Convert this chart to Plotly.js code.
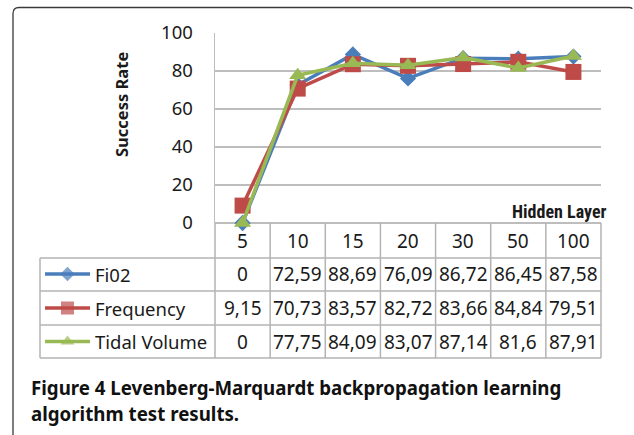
<!DOCTYPE html>
<html>
<head>
<meta charset="utf-8">
<script src="https://cdn.plot.ly/plotly-3.0.1.min.js"></script>
<style>
  html, body { margin: 0; padding: 0; background: #fff; }
  #chart { width: 634px; height: 435px; }
</style>
</head>
<body>
<div id="chart"></div>
<script>
// ---- data ----
const categories = ['5', '10', '15', '20', '30', '50', '100'];
const seriesNames = ['Fi02', 'Frequency', 'Tidal Volume'];
const fi02 = [0, 72.59, 88.69, 76.09, 86.72, 86.45, 87.58];
const frequency = [9.15, 70.73, 83.57, 82.72, 83.66, 84.84, 79.51];
const tidalVolume = [0, 77.75, 84.09, 83.07, 87.14, 81.6, 87.91];
const yTicks = [0, 20, 40, 60, 80, 100];
const yTitle = 'Success Rate';
const xTitle = 'Hidden Layer';
const captionLine1Bold = 'Figure 4';
const captionLine1Rest = ' Levenberg-Marquardt backpropagation learning';
const captionLine2 = 'algorithm test results.';

// ---- styling ----
const colors = ['#4a7ebb', '#be4b48', '#98b954'];
const symbols = ['diamond', 'square', 'triangle-up'];
const sizes = [12.5, 16, 15];
const legendSizes = [11, 13, 12];
const seriesValues = [fi02, frequency, tidalVolume];

const W = 634, H = 435;
const L = 215, R = 601, T = 33, B = 223;
// pixel -> paper
const PX = px => px / W;
const PY = py => 1 - py / H;

const fontMain = '"Noto Sans", "Open Sans", "DejaVu Sans", sans-serif';
const gridCol = '#bdbdbd';
const tableCol = '#b3b3b3';
const txtCol = '#1a1a1a';

const traces = seriesValues.map((vals, i) => ({
  type: 'scatter',
  mode: 'lines+markers',
  x: categories,
  y: vals,
  name: seriesNames[i],
  line: { color: colors[i], width: 3.5 },
  marker: { symbol: symbols[i], size: sizes[i], color: colors[i] },
  cliponaxis: false,
  showlegend: false
}));

// legend glyphs in the table label cells, drawn on a full-page pixel axis
const rowCenters = [274, 308, 341.5];
const glyphX0 = 45, glyphX1 = 90;
seriesValues.forEach((vals, i) => {
  traces.push({
    type: 'scatter',
    mode: 'lines+markers',
    xaxis: 'x2', yaxis: 'y2',
    x: [glyphX0, (glyphX0 + glyphX1) / 2, glyphX1],
    y: [rowCenters[i], rowCenters[i], rowCenters[i]],
    line: { color: colors[i], width: 3.5 },
    marker: { symbol: symbols[i], size: [0, legendSizes[i], 0], color: colors[i], line: { width: 0 } },
    showlegend: false,
    hoverinfo: 'skip'
  });
});

const shapes = [];
const annotations = [];

// outer frame with rounded top-left corner
const fr = 6;
shapes.push({
  type: 'path', xref: 'paper', yref: 'paper',
  path: `M ${PX(13)} ${PY(440)} L ${PX(13)} ${PY(7.5 + fr)} Q ${PX(13)} ${PY(7.5)} ${PX(13 + fr)} ${PY(7.5)} L ${PX(629)} ${PY(7.5)} Q ${PX(632)} ${PY(7.5)} ${PX(632)} ${PY(9)}`,
  line: { color: '#3a3a3a', width: 1.3 }
});

// table grid
const rowLines = [258, 291, 325, 358];
const colEdges = [];
for (let i = 0; i <= categories.length; i++) colEdges.push(L + (R - L) * i / categories.length);
const hl = (x0, x1, y) => shapes.push({ type: 'line', xref: 'paper', yref: 'paper', x0: PX(x0), x1: PX(x1), y0: PY(y), y1: PY(y), line: { color: tableCol, width: 1.5 } });
const vl = (x, y0, y1) => shapes.push({ type: 'line', xref: 'paper', yref: 'paper', x0: PX(x), x1: PX(x), y0: PY(y0), y1: PY(y1), line: { color: tableCol, width: 1.5 } });
rowLines.forEach(y => hl(40, R, y));
vl(40, 258, 358);
colEdges.forEach(x => vl(x, B, 358));

const cellFont = { family: fontMain, size: 19, color: txtCol };
// header row (category labels)
categories.forEach((c, i) => {
  annotations.push({ xref: 'x', yref: 'paper', x: i, y: PY(241), text: c, showarrow: false,
    font: cellFont, xanchor: 'center', yanchor: 'middle' });
});
// row labels and values
seriesValues.forEach((vals, r) => {
  annotations.push({ xref: 'paper', yref: 'paper', x: PX(93), y: PY(rowCenters[r]), text: seriesNames[r], showarrow: false,
    font: { family: fontMain, size: 18.5, color: txtCol }, xanchor: 'left', yanchor: 'middle' });
  vals.forEach((v, i) => {
    annotations.push({ xref: 'x', yref: 'paper', x: i, y: PY(rowCenters[r]), text: String(v).replace('.', ','), showarrow: false,
      font: cellFont, xanchor: 'center', yanchor: 'middle' });
  });
});

// axis titles
annotations.push({ xref: 'paper', yref: 'paper', x: PX(121), y: PY(105), text: '<b>' + yTitle + '</b>', textangle: -90,
  showarrow: false, font: { family: fontMain, size: 16.5, color: txtCol }, xanchor: 'center', yanchor: 'middle' });
annotations.push({ xref: 'paper', yref: 'paper', x: PX(609), y: PY(212), text: '<b>' + xTitle + '</b>',
  showarrow: false, font: { family: '"Liberation Sans Narrow", "Roboto Condensed", "Liberation Sans", sans-serif', size: 18, color: txtCol }, xanchor: 'right', yanchor: 'middle' });

// caption
const capFont = { family: fontMain, size: 18.7, color: '#111' };
annotations.push({ xref: 'paper', yref: 'paper', x: PX(29), y: PY(387), text: '<b>' + captionLine1Bold + captionLine1Rest + '</b>',
  showarrow: false, align: 'left', font: capFont, xanchor: 'left', yanchor: 'middle' });
annotations.push({ xref: 'paper', yref: 'paper', x: PX(29), y: PY(413), text: '<b>' + captionLine2 + '</b>',
  showarrow: false, align: 'left', font: capFont, xanchor: 'left', yanchor: 'middle' });

const layout = {
  width: W, height: H,
  margin: { l: 0, r: 0, t: 0, b: 0, pad: 0 },
  paper_bgcolor: '#fff', plot_bgcolor: 'rgba(0,0,0,0)',
  showlegend: false,
  xaxis: { domain: [L / W, R / W], anchor: 'y', type: 'category', categoryorder: 'array', categoryarray: categories,
    range: [-0.5, categories.length - 0.5],
    showticklabels: false, showgrid: false, zeroline: false, showline: false, ticks: '', fixedrange: true },
  yaxis: { domain: [1 - B / H, 1 - T / H], anchor: 'x', range: [0, 100], tickvals: yTicks,
    showgrid: true, gridcolor: gridCol, gridwidth: 1.3,
    zeroline: true, zerolinecolor: gridCol, zerolinewidth: 1.5,
    showline: true, linecolor: gridCol, linewidth: 1.5, ticks: '', ticklabelstandoff: 17,
    tickfont: { family: fontMain, size: 18.5, color: txtCol } },
  xaxis2: { domain: [0, 1], range: [0, W], anchor: 'y2', visible: false, fixedrange: true },
  yaxis2: { domain: [0, 1], range: [H, 0], anchor: 'x2', visible: false, fixedrange: true },
  shapes, annotations
};

Plotly.newPlot('chart', traces, layout, { displayModeBar: false, staticPlot: true });
</script>
</body>
</html>
